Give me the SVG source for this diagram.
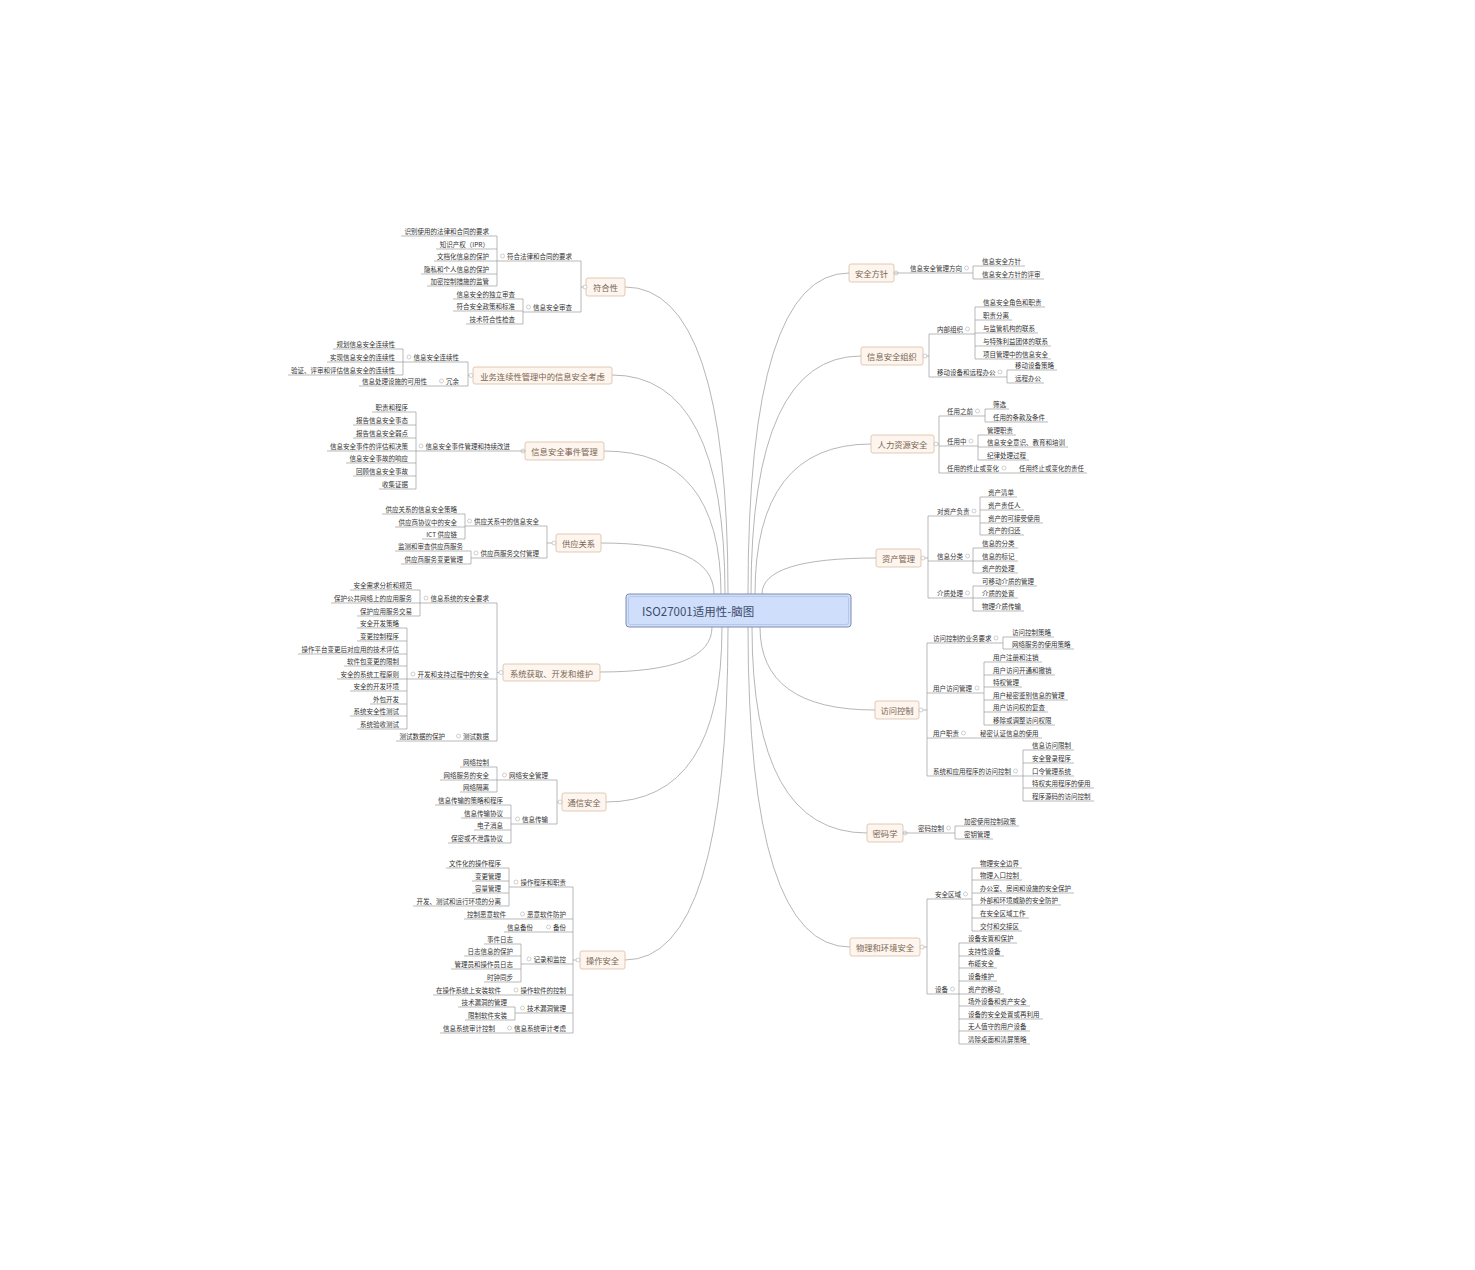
<svg xmlns="http://www.w3.org/2000/svg" width="1475" height="1270" viewBox="0 0 1475 1270">
<style>
text{font-family:"Noto Sans CJK SC","Noto Sans",sans-serif;dominant-baseline:central}
.s{font-size:6.5px;fill:#333}
.e{text-anchor:end}
.m{font-size:8.3px;fill:#7a6553;text-anchor:middle}
.u,.k{fill:none;stroke:#9b9b9b;stroke-width:.7}
.cv{fill:none;stroke:#a3a3a3;stroke-width:.8}
.b{fill:#fdf5ee;stroke:#d8bea3;stroke-width:.8}
.o{fill:#fff;stroke:#b0b0b0;stroke-width:.6}
</style>
<rect width="1475" height="1270" fill="#fff"/>
<g id="connectors">
<path class="cv" d="M728 594Q728 287 625 287M725 594Q725 375 612 375M721 594Q721 451 604 451M714 594Q714 543 601 543M712 627Q712 672 600 672M722 627Q722 802 606 802M728 627Q728 960 625 960M748 594Q748 273 849 273M751 594Q751 356 861 356M755 594Q755 444 871 444M762 594Q762 558 876 558M760 627Q760 710 875 710M752 627Q752 833 867 833M748 627Q748 947 850 947"/>
<path class="k" d="M586 287H581M581 261V312M497 236V286M523 299V324M473 375.5H468M468 362V386M403 349V375M416 412V489M556 543H547M547 526V558M465 514V539M471 551V564M503 672.5H497M497 603V741M420 590V616M407 628V729M562 802H557M557 780V824M497 767V792M511 805V843M580 960H573M573 887V1033M509 868V906M521 944V982M515 1007V1020"/>
<path class="k" d="M973 266V279M923 356H929M929 334V377M975 307V359M1007 370V383M934 444H939M939 416V473M985 409V422M978 435V460M921 558H928M928 516V598M980 497V535M973 548V573M973 586V611M919 710H927M927 643V776M1003 637V649M984 662V725M1023 750V801M955 826V839M920 947H927M927 899V994M972 868V931M959 943V1044"/>
</g>
<g id="center">
<rect x="626" y="594" width="225" height="33" rx="3" fill="#cfdefa" stroke="#7d8db0" stroke-width="1"/>
<rect x="628.5" y="596.5" width="220" height="28" rx="2" fill="none" stroke="#aebde0" stroke-width=".7"/>
<text x="642" y="610.5" font-size="11.5" fill="#3d4b6a">ISO27001适用性-脑图</text>
</g>
<!-- 符合性 -->
<g id="n1"><rect class="b" x="586" y="278" width="39" height="18" rx="2"/><text class="m" x="605.5" y="287">符合性</text><circle class="o" cx="585" cy="287" r="2"/></g>
<g id="n1-1"><text class="s e" x="572" y="256">符合法律和合同的要求</text><path class="u" d="M497 261H581"/><circle class="o" cx="502.5" cy="256" r="2"/></g>
<g id="n1-1-1"><text class="s e" x="489" y="231">识别使用的法律和合同的要求</text><path class="u" d="M401 236H497"/></g>
<g id="n1-1-2"><text class="s e" x="489" y="244">知识产权（IPR）</text><path class="u" d="M436 249H497"/></g>
<g id="n1-1-3"><text class="s e" x="489" y="256">文档化信息的保护</text><path class="u" d="M434 261H497"/></g>
<g id="n1-1-4"><text class="s e" x="489" y="269">隐私和个人信息的保护</text><path class="u" d="M421 274H497"/></g>
<g id="n1-1-5"><text class="s e" x="489" y="281">加密控制措施的监管</text><path class="u" d="M427 286H497"/></g>
<g id="n1-2"><text class="s e" x="572" y="307">信息安全审查</text><path class="u" d="M523 312H581"/><circle class="o" cx="528.5" cy="307" r="2"/></g>
<g id="n1-2-1"><text class="s e" x="515" y="294">信息安全的独立审查</text><path class="u" d="M453 299H523"/></g>
<g id="n1-2-2"><text class="s e" x="515" y="306">符合安全政策和标准</text><path class="u" d="M453 311H523"/></g>
<g id="n1-2-3"><text class="s e" x="515" y="319">技术符合性检查</text><path class="u" d="M466 324H523"/></g>
<!-- 业务连续性 -->
<g id="n2"><rect class="b" x="473" y="367" width="139" height="17" rx="2"/><text class="m" x="542.5" y="375.5">业务连续性管理中的信息安全考虑</text><circle class="o" cx="471" cy="375.5" r="2"/></g>
<g id="n2-1"><text class="s e" x="459" y="357">信息安全连续性</text><path class="u" d="M403 362H468"/><circle class="o" cx="409" cy="357" r="2"/></g>
<g id="n2-1-1"><text class="s e" x="395" y="344">规划信息安全连续性</text><path class="u" d="M333 349H403"/></g>
<g id="n2-1-2"><text class="s e" x="395" y="357">实现信息安全的连续性</text><path class="u" d="M327 362H403"/></g>
<g id="n2-1-3"><text class="s e" x="395" y="370">验证、评审和评估信息安全的连续性</text><path class="u" d="M288 375H403"/></g>
<g id="n2-2"><text class="s e" x="459" y="381">冗余</text><path class="u" d="M435 386H468"/><circle class="o" cx="441.5" cy="381" r="2"/></g>
<g id="n2-2-1"><text class="s e" x="427" y="381">信息处理设施的可用性</text><path class="u" d="M359 386H435"/></g>
<!-- 事件管理 -->
<g id="n3"><rect class="b" x="525" y="442" width="79" height="18" rx="2"/><text class="m" x="564.5" y="451">信息安全事件管理</text><circle class="o" cx="523" cy="451" r="2"/></g>
<g id="n3-1"><text class="s e" x="510" y="446">信息安全事件管理和持续改进</text><path class="u" d="M416 451H525"/><circle class="o" cx="421" cy="446" r="2"/></g>
<g id="n3-1-1"><text class="s e" x="408" y="407">职责和程序</text><path class="u" d="M372 412H416"/></g>
<g id="n3-1-2"><text class="s e" x="408" y="420">报告信息安全事态</text><path class="u" d="M353 425H416"/></g>
<g id="n3-1-3"><text class="s e" x="408" y="433">报告信息安全弱点</text><path class="u" d="M353 438H416"/></g>
<g id="n3-1-4"><text class="s e" x="408" y="446">信息安全事件的评估和决策</text><path class="u" d="M327 451H416"/></g>
<g id="n3-1-5"><text class="s e" x="408" y="458">信息安全事故的响应</text><path class="u" d="M346 463H416"/></g>
<g id="n3-1-6"><text class="s e" x="408" y="471">回顾信息安全事故</text><path class="u" d="M353 476H416"/></g>
<g id="n3-1-7"><text class="s e" x="408" y="484">收集证据</text><path class="u" d="M379 489H416"/></g>
<!-- 供应关系 -->
<g id="n4"><rect class="b" x="556" y="534" width="45" height="18" rx="2"/><text class="m" x="578.5" y="543">供应关系</text><circle class="o" cx="554" cy="543" r="2"/></g>
<g id="n4-1"><text class="s e" x="539" y="521">供应关系中的信息安全</text><path class="u" d="M465 526H547"/><circle class="o" cx="469.5" cy="521" r="2"/></g>
<g id="n4-1-1"><text class="s e" x="457" y="509">供应关系的信息安全策略</text><path class="u" d="M382 514H465"/></g>
<g id="n4-1-2"><text class="s e" x="457" y="522">供应商协议中的安全</text><path class="u" d="M395 527H465"/></g>
<g id="n4-1-3"><text class="s e" x="457" y="534">ICT 供应链</text><path class="u" d="M422 539H465"/></g>
<g id="n4-2"><text class="s e" x="539" y="553">供应商服务交付管理</text><path class="u" d="M471 558H547"/><circle class="o" cx="476" cy="553" r="2"/></g>
<g id="n4-2-1"><text class="s e" x="463" y="546">监测和审查供应商服务</text><path class="u" d="M395 551H471"/></g>
<g id="n4-2-2"><text class="s e" x="463" y="559">供应商服务变更管理</text><path class="u" d="M401 564H471"/></g>
<!-- 系统获取 -->
<g id="n5"><rect class="b" x="503" y="664" width="97" height="17" rx="2"/><text class="m" x="551.5" y="672.5">系统获取、开发和维护</text><circle class="o" cx="501" cy="672.5" r="2"/></g>
<g id="n5-1"><text class="s e" x="489" y="598">信息系统的安全要求</text><path class="u" d="M420 603H497"/><circle class="o" cx="426" cy="598" r="2"/></g>
<g id="n5-1-1"><text class="s e" x="412" y="585">安全需求分析和规范</text><path class="u" d="M350 590H420"/></g>
<g id="n5-1-2"><text class="s e" x="412" y="598">保护公共网络上的应用服务</text><path class="u" d="M331 603H420"/></g>
<g id="n5-1-3"><text class="s e" x="412" y="611">保护应用服务交易</text><path class="u" d="M357 616H420"/></g>
<g id="n5-2"><text class="s e" x="489" y="674">开发和支持过程中的安全</text><path class="u" d="M407 679H497"/><circle class="o" cx="413" cy="674" r="2"/></g>
<g id="n5-2-1"><text class="s e" x="399" y="623">安全开发策略</text><path class="u" d="M357 628H407"/></g>
<g id="n5-2-2"><text class="s e" x="399" y="636">变更控制程序</text><path class="u" d="M357 641H407"/></g>
<g id="n5-2-3"><text class="s e" x="399" y="649">操作平台变更后对应用的技术评估</text><path class="u" d="M298 654H407"/></g>
<g id="n5-2-4"><text class="s e" x="399" y="661">软件包变更的限制</text><path class="u" d="M344 666H407"/></g>
<g id="n5-2-5"><text class="s e" x="399" y="674">安全的系统工程原则</text><path class="u" d="M337 679H407"/></g>
<g id="n5-2-6"><text class="s e" x="399" y="686">安全的开发环境</text><path class="u" d="M350 691H407"/></g>
<g id="n5-2-7"><text class="s e" x="399" y="699">外包开发</text><path class="u" d="M370 704H407"/></g>
<g id="n5-2-8"><text class="s e" x="399" y="711">系统安全性测试</text><path class="u" d="M350 716H407"/></g>
<g id="n5-2-9"><text class="s e" x="399" y="724">系统验收测试</text><path class="u" d="M357 729H407"/></g>
<g id="n5-3"><text class="s e" x="489" y="736">测试数据</text><path class="u" d="M453 741H497"/><circle class="o" cx="458.5" cy="736" r="2"/></g>
<g id="n5-3-1"><text class="s e" x="445" y="736">测试数据的保护</text><path class="u" d="M396 741H453"/></g>
<!-- 通信安全 -->
<g id="n6"><rect class="b" x="562" y="793" width="44" height="18" rx="2"/><text class="m" x="584" y="802">通信安全</text><circle class="o" cx="560" cy="802" r="2"/></g>
<g id="n6-1"><text class="s e" x="548" y="775">网络安全管理</text><path class="u" d="M497 780H557"/><circle class="o" cx="504.5" cy="775" r="2"/></g>
<g id="n6-1-1"><text class="s e" x="489" y="762">网络控制</text><path class="u" d="M460 767H497"/></g>
<g id="n6-1-2"><text class="s e" x="489" y="775">网络服务的安全</text><path class="u" d="M440 780H497"/></g>
<g id="n6-1-3"><text class="s e" x="489" y="787">网络隔离</text><path class="u" d="M460 792H497"/></g>
<g id="n6-2"><text class="s e" x="548" y="819">信息传输</text><path class="u" d="M511 824H557"/><circle class="o" cx="517.5" cy="819" r="2"/></g>
<g id="n6-2-1"><text class="s e" x="503" y="800">信息传输的策略和程序</text><path class="u" d="M435 805H511"/></g>
<g id="n6-2-2"><text class="s e" x="503" y="813">信息传输协议</text><path class="u" d="M461 818H511"/></g>
<g id="n6-2-3"><text class="s e" x="503" y="825">电子消息</text><path class="u" d="M474 830H511"/></g>
<g id="n6-2-4"><text class="s e" x="503" y="838">保密或不泄露协议</text><path class="u" d="M448 843H511"/></g>
<!-- 操作安全 -->
<g id="n7"><rect class="b" x="580" y="951" width="45" height="18" rx="2"/><text class="m" x="602.5" y="960">操作安全</text><circle class="o" cx="578" cy="960" r="2"/></g>
<g id="n7-1"><text class="s e" x="566" y="882">操作程序和职责</text><path class="u" d="M509 887H573"/><circle class="o" cx="516" cy="882" r="2"/></g>
<g id="n7-1-1"><text class="s e" x="501" y="863">文件化的操作程序</text><path class="u" d="M446 868H509"/></g>
<g id="n7-1-2"><text class="s e" x="501" y="876">变更管理</text><path class="u" d="M472 881H509"/></g>
<g id="n7-1-3"><text class="s e" x="501" y="888">容量管理</text><path class="u" d="M472 893H509"/></g>
<g id="n7-1-4"><text class="s e" x="501" y="901">开发、测试和运行环境的分离</text><path class="u" d="M413 906H509"/></g>
<g id="n7-2"><text class="s e" x="566" y="914">恶意软件防护</text><path class="u" d="M514 919H573"/><circle class="o" cx="522.5" cy="914" r="2"/></g>
<g id="n7-2-1"><text class="s e" x="506" y="914">控制恶意软件</text><path class="u" d="M464 919H514"/></g>
<g id="n7-3"><text class="s e" x="566" y="927">备份</text><path class="u" d="M541 932H573"/><circle class="o" cx="548.5" cy="927" r="2"/></g>
<g id="n7-3-1"><text class="s e" x="533" y="927">信息备份</text><path class="u" d="M504 932H541"/></g>
<g id="n7-4"><text class="s e" x="566" y="959">记录和监控</text><path class="u" d="M521 964H573"/><circle class="o" cx="529" cy="959" r="2"/></g>
<g id="n7-4-1"><text class="s e" x="513" y="939">事件日志</text><path class="u" d="M484 944H521"/></g>
<g id="n7-4-2"><text class="s e" x="513" y="951">日志信息的保护</text><path class="u" d="M464 956H521"/></g>
<g id="n7-4-3"><text class="s e" x="513" y="964">管理员和操作员日志</text><path class="u" d="M451 969H521"/></g>
<g id="n7-4-4"><text class="s e" x="513" y="977">时钟同步</text><path class="u" d="M484 982H521"/></g>
<g id="n7-5"><text class="s e" x="566" y="990">操作软件的控制</text><path class="u" d="M509 995H573"/><circle class="o" cx="516" cy="990" r="2"/></g>
<g id="n7-5-1"><text class="s e" x="501" y="990">在操作系统上安装软件</text><path class="u" d="M433 995H509"/></g>
<g id="n7-6"><text class="s e" x="566" y="1008">技术漏洞管理</text><path class="u" d="M515 1013H573"/><circle class="o" cx="522.5" cy="1008" r="2"/></g>
<g id="n7-6-1"><text class="s e" x="507" y="1002">技术漏洞的管理</text><path class="u" d="M458 1007H515"/></g>
<g id="n7-6-2"><text class="s e" x="507" y="1015">限制软件安装</text><path class="u" d="M465 1020H515"/></g>
<g id="n7-7"><text class="s e" x="566" y="1028">信息系统审计考虑</text><path class="u" d="M503 1033H573"/><circle class="o" cx="509.5" cy="1028" r="2"/></g>
<g id="n7-7-1"><text class="s e" x="495" y="1028">信息系统审计控制</text><path class="u" d="M440 1033H503"/></g>
<!-- 安全方针 -->
<g id="n8"><rect class="b" x="849" y="264" width="45" height="18" rx="2"/><text class="m" x="871.5" y="273">安全方针</text><circle class="o" cx="896" cy="273" r="2"/></g>
<g id="n8-1"><text class="s" x="910" y="268">信息安全管理方向</text><path class="u" d="M894 273H973"/><circle class="o" cx="966.5" cy="268" r="2"/></g>
<g id="n8-1-1"><text class="s" x="982" y="261">信息安全方针</text><path class="u" d="M973 266H1025"/></g>
<g id="n8-1-2"><text class="s" x="982" y="274">信息安全方针的评审</text><path class="u" d="M973 279H1044"/></g>
<!-- 信息安全组织 -->
<g id="n9"><rect class="b" x="861" y="347" width="62" height="18" rx="2"/><text class="m" x="892" y="356">信息安全组织</text><circle class="o" cx="925" cy="356" r="2"/></g>
<g id="n9-1"><text class="s" x="937" y="329">内部组织</text><path class="u" d="M929 334H975"/><circle class="o" cx="967.5" cy="329" r="2"/></g>
<g id="n9-1-1"><text class="s" x="983" y="302">信息安全角色和职责</text><path class="u" d="M975 307H1045"/></g>
<g id="n9-1-2"><text class="s" x="983" y="315">职责分离</text><path class="u" d="M975 320H1012"/></g>
<g id="n9-1-3"><text class="s" x="983" y="328">与监管机构的联系</text><path class="u" d="M975 333H1038"/></g>
<g id="n9-1-4"><text class="s" x="983" y="341">与特殊利益团体的联系</text><path class="u" d="M975 346H1051"/></g>
<g id="n9-1-5"><text class="s" x="983" y="354">项目管理中的信息安全</text><path class="u" d="M975 359H1051"/></g>
<g id="n9-2"><text class="s" x="937" y="372">移动设备和远程办公</text><path class="u" d="M929 377H1007"/><circle class="o" cx="1000" cy="372" r="2"/></g>
<g id="n9-2-1"><text class="s" x="1015" y="365">移动设备策略</text><path class="u" d="M1007 370H1057"/></g>
<g id="n9-2-2"><text class="s" x="1015" y="378">远程办公</text><path class="u" d="M1007 383H1044"/></g>
<!-- 人力资源安全 -->
<g id="n10"><rect class="b" x="871" y="435" width="63" height="18" rx="2"/><text class="m" x="902.5" y="444">人力资源安全</text><circle class="o" cx="936" cy="444" r="2"/></g>
<g id="n10-1"><text class="s" x="947" y="411">任用之前</text><path class="u" d="M939 416H985"/><circle class="o" cx="977.5" cy="411" r="2"/></g>
<g id="n10-1-1"><text class="s" x="993" y="404">筛选</text><path class="u" d="M985 409H1009"/></g>
<g id="n10-1-2"><text class="s" x="993" y="417">任用的条款及条件</text><path class="u" d="M985 422H1048"/></g>
<g id="n10-2"><text class="s" x="947" y="441">任用中</text><path class="u" d="M939 446H978"/><circle class="o" cx="971" cy="441" r="2"/></g>
<g id="n10-2-1"><text class="s" x="987" y="430">管理职责</text><path class="u" d="M978 435H1016"/></g>
<g id="n10-2-2"><text class="s" x="987" y="442">信息安全意识、教育和培训</text><path class="u" d="M978 447H1068"/></g>
<g id="n10-2-3"><text class="s" x="987" y="455">纪律处理过程</text><path class="u" d="M978 460H1029"/></g>
<g id="n10-3"><text class="s" x="947" y="468">任用的终止或变化</text><path class="u" d="M939 473H1011"/><circle class="o" cx="1004" cy="468" r="2"/></g>
<g id="n10-3-1"><text class="s" x="1019" y="468">任用终止或变化的责任</text><path class="u" d="M1011 473H1087"/></g>
<!-- 资产管理 -->
<g id="n11"><rect class="b" x="876" y="549" width="45" height="18" rx="2"/><text class="m" x="898.5" y="558">资产管理</text><circle class="o" cx="923" cy="558" r="2"/></g>
<g id="n11-1"><text class="s" x="937" y="511">对资产负责</text><path class="u" d="M928 516H980"/><circle class="o" cx="974" cy="511" r="2"/></g>
<g id="n11-1-1"><text class="s" x="988" y="492">资产清单</text><path class="u" d="M980 497H1017"/></g>
<g id="n11-1-2"><text class="s" x="988" y="505">资产责任人</text><path class="u" d="M980 510H1024"/></g>
<g id="n11-1-3"><text class="s" x="988" y="518">资产的可接受使用</text><path class="u" d="M980 523H1043"/></g>
<g id="n11-1-4"><text class="s" x="988" y="530">资产的归还</text><path class="u" d="M980 535H1024"/></g>
<g id="n11-2"><text class="s" x="937" y="556">信息分类</text><path class="u" d="M928 561H973"/><circle class="o" cx="967.5" cy="556" r="2"/></g>
<g id="n11-2-1"><text class="s" x="982" y="543">信息的分类</text><path class="u" d="M973 548H1018"/></g>
<g id="n11-2-2"><text class="s" x="982" y="556">信息的标记</text><path class="u" d="M973 561H1018"/></g>
<g id="n11-2-3"><text class="s" x="982" y="568">资产的处理</text><path class="u" d="M973 573H1018"/></g>
<g id="n11-3"><text class="s" x="937" y="593">介质处理</text><path class="u" d="M928 598H973"/><circle class="o" cx="967.5" cy="593" r="2"/></g>
<g id="n11-3-1"><text class="s" x="982" y="581">可移动介质的管理</text><path class="u" d="M973 586H1037"/></g>
<g id="n11-3-2"><text class="s" x="982" y="593">介质的处置</text><path class="u" d="M973 598H1018"/></g>
<g id="n11-3-3"><text class="s" x="982" y="606">物理介质传输</text><path class="u" d="M973 611H1024"/></g>
<!-- 访问控制 -->
<g id="n12"><rect class="b" x="875" y="701" width="44" height="18" rx="2"/><text class="m" x="897" y="710">访问控制</text><circle class="o" cx="921" cy="710" r="2"/></g>
<g id="n12-1"><text class="s" x="933" y="638">访问控制的业务要求</text><path class="u" d="M927 643H1003"/><circle class="o" cx="996" cy="638" r="2"/></g>
<g id="n12-1-1"><text class="s" x="1012" y="632">访问控制策略</text><path class="u" d="M1003 637H1054"/></g>
<g id="n12-1-2"><text class="s" x="1012" y="644">网络服务的使用策略</text><path class="u" d="M1003 649H1074"/></g>
<g id="n12-2"><text class="s" x="933" y="688">用户访问管理</text><path class="u" d="M927 693H984"/><circle class="o" cx="977" cy="688" r="2"/></g>
<g id="n12-2-1"><text class="s" x="993" y="657">用户注册和注销</text><path class="u" d="M984 662H1042"/></g>
<g id="n12-2-2"><text class="s" x="993" y="670">用户访问开通和撤销</text><path class="u" d="M984 675H1055"/></g>
<g id="n12-2-3"><text class="s" x="993" y="682">特权管理</text><path class="u" d="M984 687H1022"/></g>
<g id="n12-2-4"><text class="s" x="993" y="695">用户秘密鉴别信息的管理</text><path class="u" d="M984 700H1068"/></g>
<g id="n12-2-5"><text class="s" x="993" y="707">用户访问权的复查</text><path class="u" d="M984 712H1048"/></g>
<g id="n12-2-6"><text class="s" x="993" y="720">移除或调整访问权限</text><path class="u" d="M984 725H1055"/></g>
<g id="n12-3"><text class="s" x="933" y="733">用户职责</text><path class="u" d="M927 738H972"/><circle class="o" cx="963.5" cy="733" r="2"/></g>
<g id="n12-3-1"><text class="s" x="980" y="733">秘密认证信息的使用</text><path class="u" d="M972 738H1042"/></g>
<g id="n12-4"><text class="s" x="933" y="771">系统和应用程序的访问控制</text><path class="u" d="M927 776H1023"/><circle class="o" cx="1015.5" cy="771" r="2"/></g>
<g id="n12-4-1"><text class="s" x="1032" y="745">信息访问限制</text><path class="u" d="M1023 750H1074"/></g>
<g id="n12-4-2"><text class="s" x="1032" y="758">安全登录程序</text><path class="u" d="M1023 763H1074"/></g>
<g id="n12-4-3"><text class="s" x="1032" y="771">口令管理系统</text><path class="u" d="M1023 776H1074"/></g>
<g id="n12-4-4"><text class="s" x="1032" y="783">特权实用程序的使用</text><path class="u" d="M1023 788H1094"/></g>
<g id="n12-4-5"><text class="s" x="1032" y="796">程序源码的访问控制</text><path class="u" d="M1023 801H1094"/></g>
<!-- 密码学 -->
<g id="n13"><rect class="b" x="867" y="824" width="36" height="18" rx="2"/><text class="m" x="885" y="833">密码学</text><circle class="o" cx="905" cy="833" r="2"/></g>
<g id="n13-1"><text class="s" x="918" y="828">密码控制</text><path class="u" d="M903 833H955"/><circle class="o" cx="948.5" cy="828" r="2"/></g>
<g id="n13-1-1"><text class="s" x="964" y="821">加密使用控制政策</text><path class="u" d="M955 826H1019"/></g>
<g id="n13-1-2"><text class="s" x="964" y="834">密钥管理</text><path class="u" d="M955 839H993"/></g>
<!-- 物理和环境安全 -->
<g id="n14"><rect class="b" x="850" y="938" width="70" height="18" rx="2"/><text class="m" x="885" y="947">物理和环境安全</text><circle class="o" cx="922" cy="947" r="2"/></g>
<g id="n14-1"><text class="s" x="935" y="894">安全区域</text><path class="u" d="M927 899H972"/><circle class="o" cx="965.5" cy="894" r="2"/></g>
<g id="n14-1-1"><text class="s" x="980" y="863">物理安全边界</text><path class="u" d="M972 868H1022"/></g>
<g id="n14-1-2"><text class="s" x="980" y="875">物理入口控制</text><path class="u" d="M972 880H1022"/></g>
<g id="n14-1-3"><text class="s" x="980" y="888">办公室、房间和设施的安全保护</text><path class="u" d="M972 893H1074"/></g>
<g id="n14-1-4"><text class="s" x="980" y="900">外部和环境威胁的安全防护</text><path class="u" d="M972 905H1061"/></g>
<g id="n14-1-5"><text class="s" x="980" y="913">在安全区域工作</text><path class="u" d="M972 918H1029"/></g>
<g id="n14-1-6"><text class="s" x="980" y="926">交付和交接区</text><path class="u" d="M972 931H1022"/></g>
<g id="n14-2"><text class="s" x="935" y="989">设备</text><path class="u" d="M927 994H959"/><circle class="o" cx="952.5" cy="989" r="2"/></g>
<g id="n14-2-1"><text class="s" x="968" y="938">设备安置和保护</text><path class="u" d="M959 943H1017"/></g>
<g id="n14-2-2"><text class="s" x="968" y="951">支持性设备</text><path class="u" d="M959 956H1004"/></g>
<g id="n14-2-3"><text class="s" x="968" y="963">布缆安全</text><path class="u" d="M959 968H997"/></g>
<g id="n14-2-4"><text class="s" x="968" y="976">设备维护</text><path class="u" d="M959 981H997"/></g>
<g id="n14-2-5"><text class="s" x="968" y="989">资产的移动</text><path class="u" d="M959 994H1004"/></g>
<g id="n14-2-6"><text class="s" x="968" y="1001">场外设备和资产安全</text><path class="u" d="M959 1006H1030"/></g>
<g id="n14-2-7"><text class="s" x="968" y="1014">设备的安全处置或再利用</text><path class="u" d="M959 1019H1043"/></g>
<g id="n14-2-8"><text class="s" x="968" y="1026">无人值守的用户设备</text><path class="u" d="M959 1031H1030"/></g>
<g id="n14-2-9"><text class="s" x="968" y="1039">清除桌面和清屏策略</text><path class="u" d="M959 1044H1030"/></g>
</svg>
